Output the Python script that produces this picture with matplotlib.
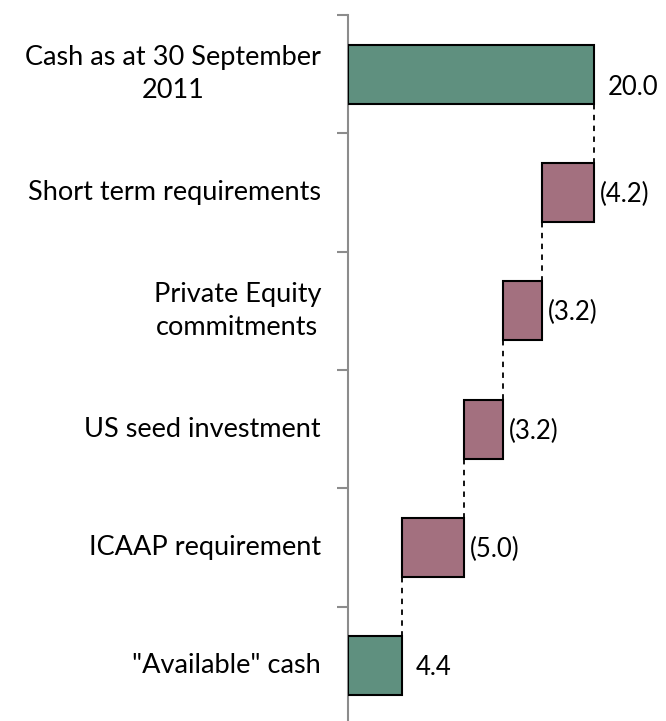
import matplotlib
matplotlib.use("Agg")
import matplotlib.pyplot as plt
from matplotlib import transforms

# data
categories = ["Cash as at 30 September\n2011", "Short term requirements",
              "Private Equity\ncommitments", "US seed investment",
              "ICAAP requirement", "\"Available\" cash"]
values = [20.0, -4.2, -3.2, -3.2, -5.0, 4.4]
is_total = [True, False, False, False, False, True]
value_labels = ["20.0", "(4.2)", "(3.2)", "(3.2)", "(5.0)", "4.4"]

green = "#5F907F"
mauve = "#A3707F"

plt.rcParams['font.family'] = ['Lato', 'DejaVu Sans']

W, H = 666, 721
fig = plt.figure(figsize=(W / 100, H / 100), dpi=100)
ax_left, ax_top, ax_bot = 348, 15, 725
ax = fig.add_axes([ax_left / W, (H - ax_bot) / H, (W - ax_left) / W, (ax_bot - ax_top) / H])
px_per_unit = (594 - 348) / 20.0
ax.set_xlim(0, (W - ax_left) / px_per_unit)
n = len(categories)
ax.set_ylim(n, 0)

# waterfall bars
running = 0.0
for i, (v, tot) in enumerate(zip(values, is_total)):
    if tot:
        left, width = 0, v
        end = v
        col = green
    else:
        left, width = running + v, -v
        end = running + v
        col = mauve
    y = i + 0.5
    ax.barh(y, width, left=left, height=0.5, color=col, edgecolor='black', linewidth=1.5, zorder=3)
    if i > 0:
        # dashed connector from previous bar bottom to this bar top
        ax.plot([running, running], [i - 0.25, y - 0.25], color='black',
                linestyle=(0, (3, 3)), linewidth=1.3, zorder=2)
    running = end
    right = left + width
    off = transforms.offset_copy(ax.transData, fig=fig, x=14 if tot else 6,
                                 y=-13 if i == 0 else -2, units='dots')
    ax.text(right, y, value_labels[i], transform=off, ha='left', va='center', fontsize=18.5)

# axis styling
for s in ['top', 'right', 'bottom']:
    ax.spines[s].set_visible(False)
ax.spines['left'].set_color('#8c8c8c')
ax.spines['left'].set_linewidth(1.5)
ax.set_xticks([])
ax.set_yticks(range(n + 1))
ax.set_yticklabels([])
ax.tick_params(axis='y', direction='out', length=8, width=1.5, color='#8c8c8c')
for i, c in enumerate(categories):
    ax.text(-27 / px_per_unit, i + 0.5, c, ha='right', va='center', multialignment='center',
            fontsize=19.5, linespacing=1.4)

fig.savefig("out.png", dpi=100)
